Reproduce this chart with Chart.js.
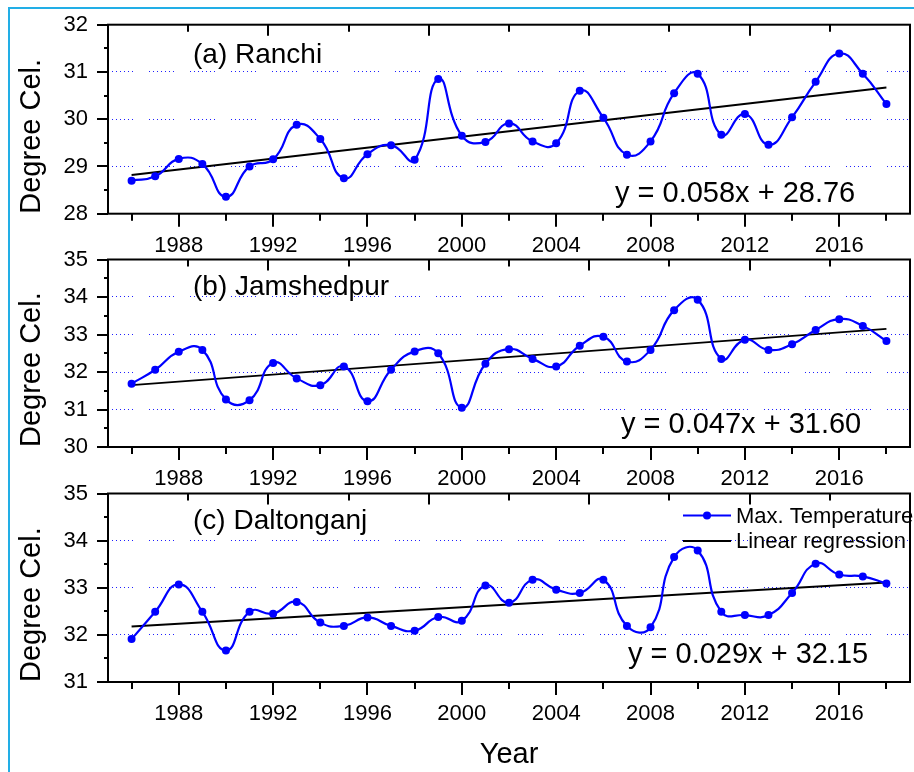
<!DOCTYPE html>
<html>
<head>
<meta charset="utf-8">
<script src="https://cdn.jsdelivr.net/npm/chart.js@4"></script>
<style>
  html, body { margin: 0; padding: 0; background: #fff; }
  body { width: 914px; height: 772px; position: relative; overflow: hidden; }
  #frame {
    position: absolute; left: 8px; top: 7px; right: 0; bottom: 0;
    border-top: 2px solid #22aee6; border-left: 2px solid #22aee6;
  }
  canvas { position: absolute; left: 0; }
  #pa { top: 0; }
  #pb { top: 236px; }
  #pc { top: 470px; }
</style>
</head>
<body>
<div id="frame"></div>
<canvas id="pa" width="914" height="256"></canvas>
<canvas id="pb" width="914" height="254"></canvas>
<canvas id="pc" width="914" height="302"></canvas>
<script>
/* ================= DATA ================= */

const years = [1986, 1987, 1988, 1989, 1990, 1991, 1992, 1993, 1994, 1995, 1996,
  1997, 1998, 1999, 2000, 2001, 2002, 2003, 2004, 2005, 2006, 2007, 2008, 2009,
  2010, 2011, 2012, 2013, 2014, 2015, 2016, 2017, 2018];

// x tick marks every 2 years, labels only on 1988, 1992, ...
const tickYears = [1986, 1988, 1990, 1992, 1994, 1996, 1998, 2000, 2002, 2004,
  2006, 2008, 2010, 2012, 2014, 2016, 2018];
const labelYears = [1988, 1992, 1996, 2000, 2004, 2008, 2012, 2016];

const ranchiTmax = [28.70, 28.79, 29.16, 29.05, 28.36, 29.00, 29.15, 29.88, 29.58,
  28.75, 29.26, 29.45, 29.14, 30.85, 29.65, 29.52, 29.91, 29.53, 29.49, 30.60,
  30.03, 29.25, 29.53, 30.55, 30.96, 29.67, 30.11, 29.46, 30.04, 30.79, 31.39,
  30.96, 30.32];

const jamshedpurTmax = [31.69, 32.06, 32.54, 32.59, 31.27, 31.25, 32.24, 31.83,
  31.65, 32.15, 31.22, 32.06, 32.55, 32.50, 31.05, 32.22, 32.61, 32.35, 32.15,
  32.70, 32.94, 32.28, 32.59, 33.65, 33.93, 32.35, 32.86, 32.59, 32.74, 33.12,
  33.41, 33.23, 32.83];

const daltonganjTmax = [31.91, 32.49, 33.07, 32.49, 31.67, 32.49, 32.45, 32.70,
  32.26, 32.19, 32.37, 32.19, 32.09, 32.38, 32.30, 33.05, 32.68, 33.17, 32.96,
  32.89, 33.17, 32.19, 32.16, 33.65, 33.79, 32.49, 32.42, 32.42, 32.89, 33.51,
  33.28, 33.24, 33.09];

// regression line end points (first and last year)
const regYears = [1986, 2018];
const ranchiReg = [28.82, 30.67];
const jamshedpurReg = [31.65, 33.15];
const daltonganjReg = [32.18, 33.11];

const yRanges = { a: [28, 32], b: [30, 35], c: [31, 35] };

/* ================= DECORATION PLUGIN ================= */

const FONT = "'Liberation Sans', Arial, sans-serif";

const panelDecor = {
  id: "panelDecor",
  afterDatasetsDraw(chart, args, opts) {
    const { ctx, chartArea: a, scales } = chart;
    ctx.save();
    ctx.strokeStyle = "#000";
    ctx.lineWidth = 2;
    ctx.lineCap = "butt";

    // frame
    ctx.strokeRect(a.left, a.top, a.width, a.height);

    ctx.beginPath();
    // left ticks, outward (major every 1, minor every 0.5)
    for (let v = scales.y.min; v <= scales.y.max; v += 0.5) {
      let py = Math.round(scales.y.getPixelForValue(v));
      let len = Number.isInteger(v) ? 11 : 4;
      ctx.moveTo(a.left, py);
      ctx.lineTo(a.left - len, py);
    }
    // bottom ticks, outward
    scales.x.ticks.forEach(t => {
      let px = Math.round(scales.x.getPixelForValue(t.value));
      let len = labelYears.includes(t.value) ? 13 : 7;
      ctx.moveTo(px, a.bottom);
      ctx.lineTo(px, a.bottom + len);
    });
    // top ticks, inward
    for (let k = 1; k < 10; k++) {
      let px = Math.round(scales.xt.getPixelForValue(k));
      let len = k % 2 === 0 ? 11 : 7;
      ctx.moveTo(px, a.top);
      ctx.lineTo(px, a.top + len);
    }
    ctx.stroke();

    // panel label and equation
    ctx.fillStyle = "#000";
    ctx.textBaseline = "alphabetic";
    ctx.textAlign = "left";
    ctx.font = "28px " + FONT;
    ctx.fillText(opts.title, a.left + 85, a.top + opts.titleDy);
    ctx.font = "29px " + FONT;
    ctx.fillText(opts.eq, a.left + opts.eqDx, a.bottom - opts.eqDy);

    // legend (only in last panel)
    if (opts.legend) {
      let lx = a.right - 227;
      let y1 = a.top + 22;
      let y2 = a.top + 47.5;
      ctx.lineWidth = 2;
      ctx.strokeStyle = "#0000ff";
      ctx.beginPath();
      ctx.moveTo(lx, y1);
      ctx.lineTo(lx + 48, y1);
      ctx.stroke();
      ctx.fillStyle = "#0000ff";
      ctx.beginPath();
      ctx.arc(lx + 24, y1, 4, 0, Math.PI * 2);
      ctx.fill();
      ctx.strokeStyle = "#000";
      ctx.beginPath();
      ctx.moveTo(lx, y2);
      ctx.lineTo(lx + 48, y2);
      ctx.stroke();
      ctx.fillStyle = "#000";
      ctx.font = "22px " + FONT;
      ctx.textBaseline = "middle";
      ctx.fillText("Max. Temperature", lx + 53, y1 + 1);
      ctx.fillText("Linear regression", lx + 53, y2 + 1);
    }
    ctx.restore();
  }
};

/* ================= PANELS ================= */

function makePanel(id, tmax, reg, range, o) {
  return new Chart(document.getElementById(id), {
    type: "line",
    data: {
      datasets: [
        {
          label: "Max. Temperature",
          data: years.map((yr, i) => ({ x: yr, y: tmax[i] })),
          borderColor: "#0000ff",
          backgroundColor: "#0000ff",
          borderWidth: 2.2,
          pointRadius: 4,
          pointBorderWidth: 0,
          tension: 0.5,
          fill: false
        },
        {
          label: "Linear regression",
          data: regYears.map((yr, i) => ({ x: yr, y: reg[i] })),
          borderColor: "#000",
          borderWidth: 2,
          pointRadius: 0,
          tension: 0,
          fill: false
        }
      ]
    },
    options: {
      responsive: false,
      animation: false,
      devicePixelRatio: 1,
      layout: { padding: { top: o.padTop, right: 3, bottom: 0, left: 0 } },
      plugins: {
        legend: { display: false },
        tooltip: { enabled: false },
        panelDecor: o
      },
      scales: {
        x: {
          type: "linear",
          position: "bottom",
          min: 1985,
          max: 2019,
          afterBuildTicks: s => {
            s.ticks = tickYears.map(v => ({ value: v }));
          },
          afterFit: s => {
            s.height = o.xHeight;
            s.paddingLeft = 0;
            s.paddingRight = 0;
          },
          grid: { display: false, drawTicks: false },
          border: { display: false },
          ticks: {
            autoSkip: false,
            maxRotation: 0,
            padding: 19,
            color: "#000",
            font: { family: FONT, size: 22 },
            callback: v => (labelYears.includes(v) ? String(v) : "")
          },
          title: {
            display: !!o.xTitle,
            text: "Year",
            color: "#000",
            font: { family: FONT, size: 29 },
            padding: { top: 0, bottom: 0 }
          }
        },
        xt: { type: "linear", position: "top", display: false, min: 0, max: 10 },
        y: {
          min: range[0],
          max: range[1],
          afterFit: s => {
            s.width = 108;
            s.paddingTop = 0;
            s.paddingBottom = 0;
          },
          grid: { drawTicks: false, color: "#1f1fff", lineWidth: 1 },
          border: { display: false, dash: [1, 3, 1, 3, 1, 3, 1, 3, 1, 3, 1, 3, 1, 16] },
          ticks: {
            stepSize: 1,
            padding: 20,
            color: "#000",
            font: { family: FONT, size: 22 }
          },
          title: {
            display: true,
            text: "Degree Cel.",
            align: "start",
            color: "#000",
            font: { family: FONT, size: 29 },
            padding: { top: 15, bottom: 0 }
          }
        }
      }
    },
    plugins: [panelDecor]
  });
}

makePanel("pa", ranchiTmax, ranchiReg, yRanges.a, {
  padTop: 24.7, xHeight: 42.3,
  title: "(a) Ranchi", titleDy: 38.5,
  eq: "y = 0.058x + 28.76", eqDx: 507, eqDy: 12
});

makePanel("pb", jamshedpurTmax, jamshedpurReg, yRanges.b, {
  padTop: 23.5, xHeight: 43,
  title: "(b) Jamshedpur", titleDy: 35.5,
  eq: "y = 0.047x + 31.60", eqDx: 513, eqDy: 13.7
});

makePanel("pc", daltonganjTmax, daltonganjReg, yRanges.c, {
  padTop: 23.5, xHeight: 90, xTitle: true,
  title: "(c) Daltonganj", titleDy: 35,
  eq: "y = 0.029x + 32.15", eqDx: 520, eqDy: 18.7,
  legend: true
});
</script>
</body>
</html>
